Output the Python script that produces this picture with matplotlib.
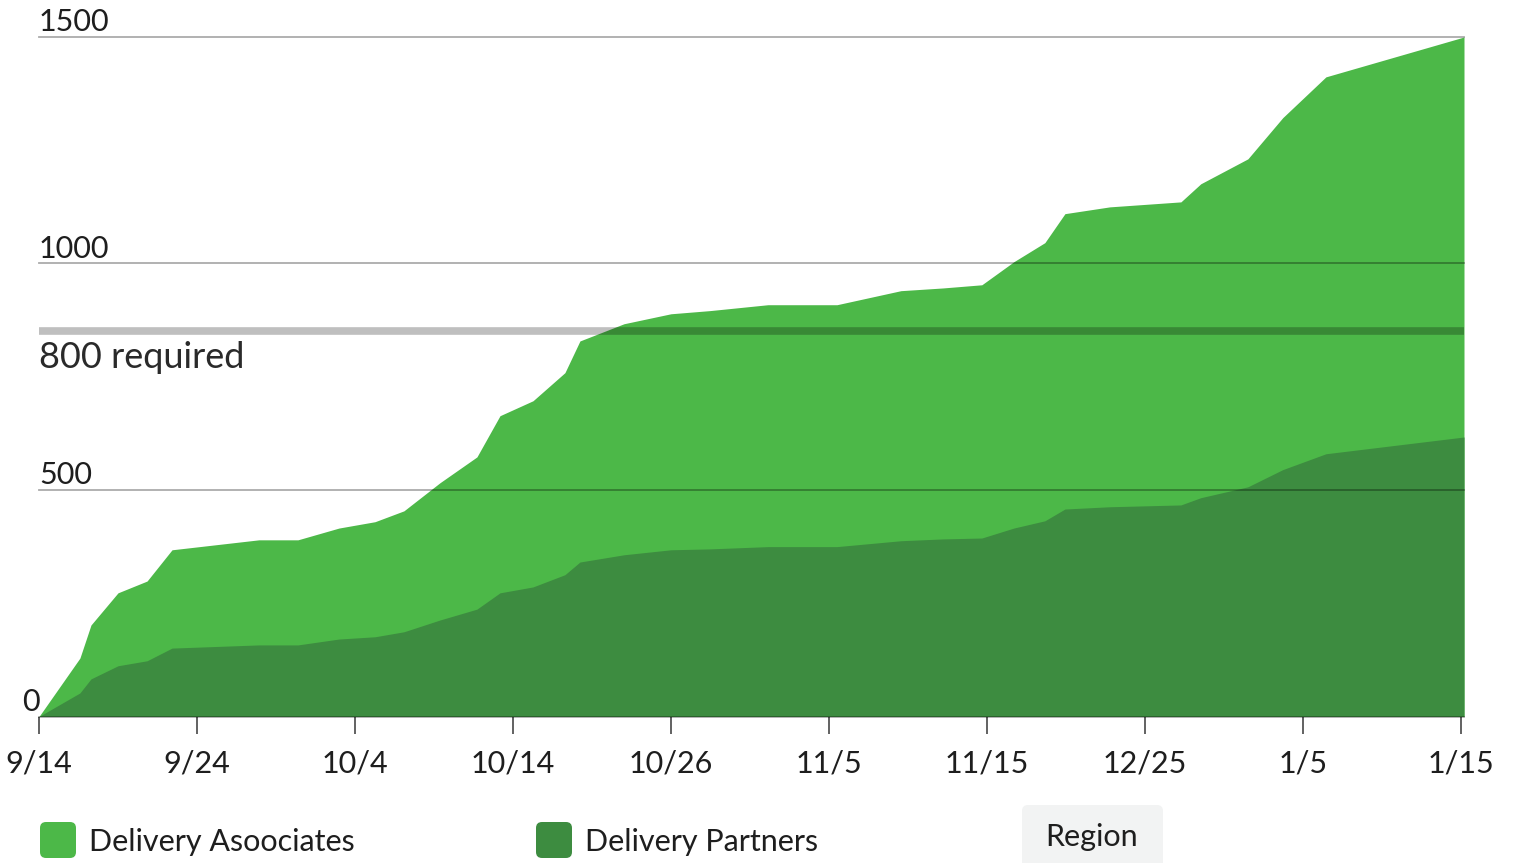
import matplotlib
matplotlib.use("Agg")
import matplotlib.pyplot as plt
from matplotlib.patches import FancyBboxPatch

# x positions are in tick units (0 = 9/14, 9 = 1/15)
tick_labels = ["9/14", "9/24", "10/4", "10/14", "10/26", "11/5", "11/15", "12/25", "1/5", "1/15"]
x = [0, 0.259, 0.329, 0.500, 0.684, 0.842, 1.392, 1.639, 1.899, 2.127, 2.310, 2.538,
     2.772, 2.918, 3.127, 3.329, 3.424, 3.703, 4.000, 4.247, 4.614, 5.051, 5.456,
     5.722, 5.968, 6.171, 6.367, 6.494, 6.778, 7.228, 7.354, 7.652, 7.873, 8.146, 9.02]
associates = [0, 129, 202, 273, 299, 368, 390, 390, 416, 430, 454, 516, 573, 664, 697,
              759, 829, 867, 889, 896, 909, 909, 940, 946, 953, 1004, 1046, 1110, 1125,
              1136, 1176, 1231, 1322, 1412, 1500]
partners = [0, 52, 83, 112, 123, 151, 158, 158, 171, 176, 187, 213, 237, 273, 286, 313,
            341, 357, 368, 370, 375, 375, 388, 392, 394, 416, 432, 458, 463, 467, 483,
            507, 545, 580, 617]
y_grid = [0, 500, 1000, 1500]
required = 851
required_label = "800 required"

light = "#4cb848"
dark = "#3d8c40"
txt = "#1e1e1e"

plt.rcParams["font.family"] = ["Lato", "DejaVu Sans"]

fig = plt.figure(figsize=(15.14, 8.63), dpi=100)
W, H = 1514, 863
ax = fig.add_axes([39 / W, 1 - 716.5 / H, (1464 - 39) / W, (716.5 - 37) / H])
ax.set_xlim(0, 9.02)
ax.set_ylim(0, 1500)
for s in ax.spines.values():
    s.set_visible(False)

ax.fill_between(x, associates, color=light, lw=0, zorder=1)
ax.fill_between(x, partners, color=dark, lw=0, zorder=2)

# gridlines drawn over the areas
for g in y_grid:
    ax.axhline(g, color="black", alpha=0.33, lw=1.3, zorder=3, clip_on=False)
    if g == 0:
        ax.text(0.005, g + 2, "0", ha="right", va="bottom", fontsize=22, color=txt)
    else:
        ax.text(0, g + 2, str(g), ha="left", va="bottom", fontsize=22, color=txt)

ax.axhline(required, color="black", alpha=0.25, lw=5.5, zorder=4)
ax.text(0, required - 22, required_label, ha="left", va="top", fontsize=26, color="#2a2a2a")

ax.set_yticks([])
ax.set_xticks(range(len(tick_labels)))
ax.set_xticklabels(tick_labels, fontsize=22, color=txt)
ax.tick_params(axis="x", direction="out", length=12, width=1.3, color="#555555", pad=12)

# legend
fig.patches.append(FancyBboxPatch((40, 863 - 858), 36, 36, boxstyle="round,pad=0,rounding_size=6",
                                  transform=None, fc=light, ec="none"))
fig.patches.append(FancyBboxPatch((536, 863 - 858), 36, 36, boxstyle="round,pad=0,rounding_size=6",
                                  transform=None, fc=dark, ec="none"))
fig.text(89 / W, 1 - 842 / H, "Delivery Asoociates", ha="left", va="center",
         fontsize=22, color=txt)
fig.text(585 / W, 1 - 842 / H, "Delivery Partners", ha="left", va="center",
         fontsize=22, color=txt)
fig.patches.append(FancyBboxPatch((1022, -10), 141, 68, boxstyle="round,pad=0,rounding_size=6",
                                  transform=None, fc="#f2f3f3", ec="none"))
fig.text(1092 / W, 1 - 837 / H, "Region", ha="center", va="center",
         fontsize=22, color=txt)

fig.savefig("out.png", dpi=100)
